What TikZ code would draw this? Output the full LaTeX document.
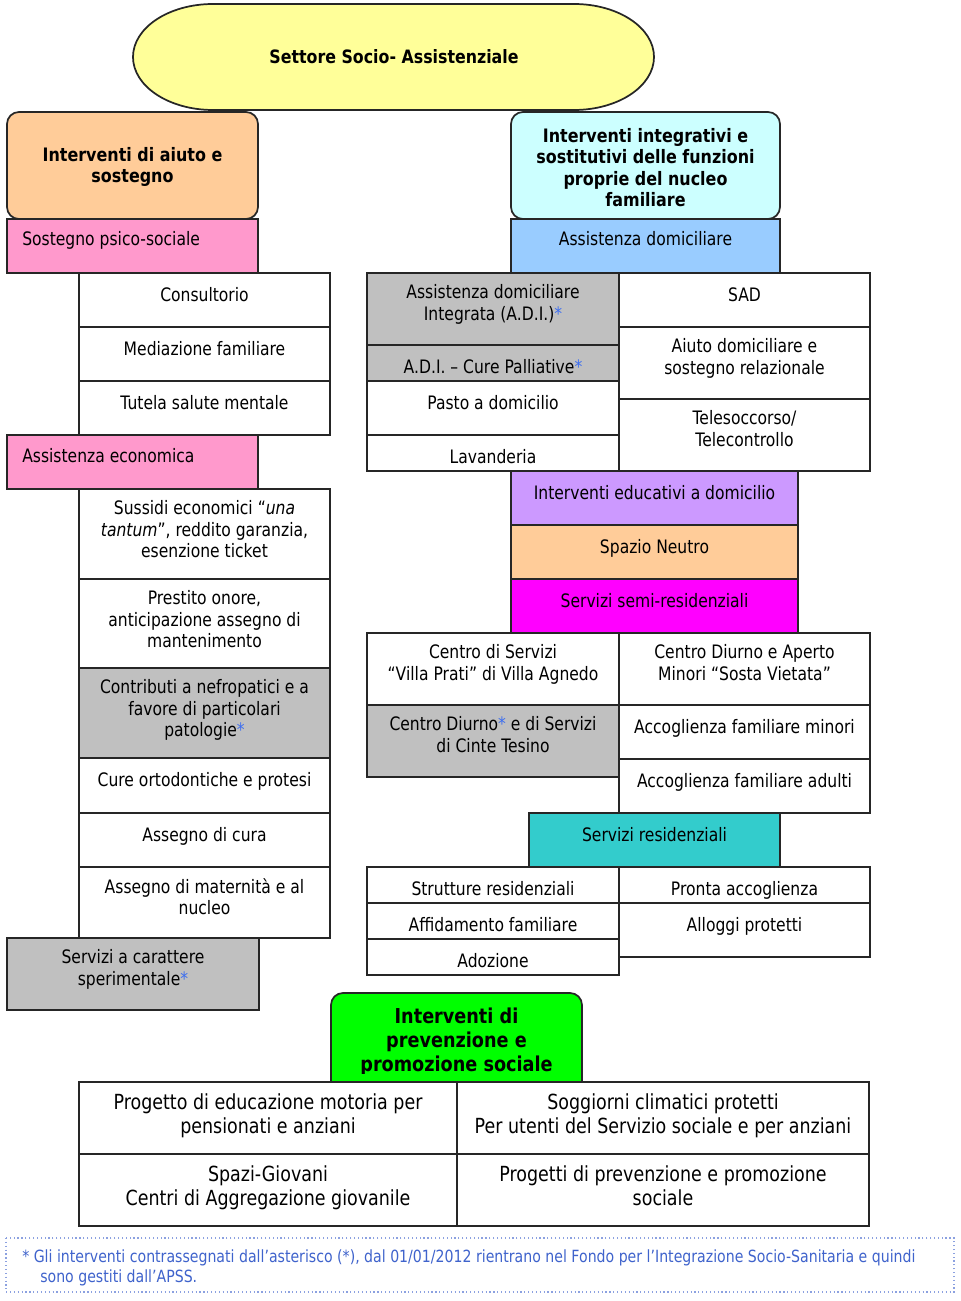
\documentclass[tikz,border=0pt]{standalone}
\usepackage{fontspec}
\setmainfont{DejaVu Sans}[FakeStretch=0.84, BoldFeatures={FakeStretch=0.86}]
\usepackage{xcolor}
\usepackage{tikz}
\usetikzlibrary{positioning}

% colori dei riquadri
\definecolor{giallo}{HTML}{FFFF99}
\definecolor{pesca}{HTML}{FFCC99}
\definecolor{rosa}{HTML}{FF99CC}
\definecolor{celeste}{HTML}{CCFFFF}
\definecolor{azzurro}{HTML}{99CCFF}
\definecolor{grigio}{HTML}{C0C0C0}
\definecolor{lilla}{HTML}{CC99FF}
\definecolor{fucsia}{HTML}{FF00FF}
\definecolor{turchese}{HTML}{33CCCC}
\definecolor{verde}{HTML}{00FF00}
\definecolor{blunota}{HTML}{3F63CC}
\definecolor{stellina}{HTML}{3D6EF0}

\newcommand{\stella}{\textcolor{stellina}{*}}
\newcommand{\fvoce}{\fontsize{13.9}{16.1}\selectfont}
\newcommand{\ftab}{\fontsize{15.6}{18}\selectfont}
\newcommand{\fprev}{\bfseries\fontsize{15.4}{18}\selectfont}
\newcommand{\fnota}{\fontsize{12.6}{15}\selectfont}

% riquadro con il testo in alto (prima riga a 28px dal bordo)
\newcommand{\cella}[7][white]{%
  \draw[bordo, fill=#1] (#3,#4) rectangle (#5,#6);
  \node[voce] (#2) at ({(#3+#5)/2},{#4+11.33}) {#7};}

\begin{document}
\begin{tikzpicture}[x=0.75pt, y=-0.75pt,
    bordo/.style={draw=black!85, line width=1.3pt},
    voce/.style={font=\fvoce, align=center, anchor=north, inner sep=0pt,
        execute at begin node={\rule{0pt}{12.5pt}}},
    intest/.style={font=\bfseries\fvoce, align=center, inner sep=0pt}]
    \fill[white] (0,0) rectangle (960,1301);
    \useasboundingbox (0,0) rectangle (960,1301);

    % Titolo
    \draw[bordo, fill=giallo] (213,4) -- (574,4)
        arc[start angle=-90, end angle=90, x radius=80, y radius=53] -- (213,110)
        arc[start angle=90, end angle=270, x radius=80, y radius=53] -- cycle;
    \node[intest, font=\bfseries\fontsize{13.8}{15}\selectfont] (settore) at (394,57) {Settore Socio- Assistenziale};

    % Intestazioni
    \draw[bordo, fill=pesca, rounded corners=9pt] (7,112) rectangle (258,219);
    \node[intest] (aiuto) at (132.5,167) {Interventi di aiuto e\\sostegno};
    \draw[bordo, fill=celeste, rounded corners=9pt] (511,112) rectangle (780,219);
    \node[intest] (integrativi) at (645.5,167.5) {Interventi integrativi e\\sostitutivi delle funzioni\\proprie del nucleo\\familiare};

    % Colonna sinistra
    \draw[bordo, fill=rosa] (7,219) rectangle (258,273);
    \node[voce, anchor=base west] (psico) at (22,246) {Sostegno psico-sociale};
    \foreach \nome/\testo/\y in {consultorio/Consultorio/273, mediazione/Mediazione familiare/327, tutela/Tutela salute mentale/381}
        {\cella{\nome}{79}{\y}{330}{\y+54}{\testo}}
    \draw[bordo, fill=rosa] (7,435) rectangle (258,489);
    \node[voce, anchor=base west] (economica) at (22,462) {Assistenza economica};
    \cella{sussidi}{79}{489}{330}{579}{Sussidi economici “\textit{una}\\\textit{tantum}”, reddito garanzia,\\esenzione ticket}
    \cella{prestito}{79}{579}{330}{668}{Prestito onore,\\anticipazione assegno di\\mantenimento}
    \cella[grigio]{nefropatici}{79}{668}{330}{758}{Contributi a nefropatici e a\\favore di particolari\\patologie\stella}
    \cella{ortodontiche}{79}{758}{330}{813}{Cure ortodontiche e protesi}
    \cella{cura}{79}{813}{330}{867}{Assegno di cura}
    \cella{maternita}{79}{867}{330}{938}{Assegno di maternità e al\\nucleo}
    \cella[grigio]{sperimentale}{7}{938}{259}{1010}{Servizi a carattere\\sperimentale\stella}

    % Assistenza domiciliare
    \draw[bordo, fill=azzurro] (511,219) rectangle (780,273);
    \node[voce, anchor=base] (domiciliare) at (645.5,246) {Assistenza domiciliare};
    \cella[grigio]{adi}{367}{273}{619}{345}{Assistenza domiciliare\\Integrata (A.D.I.)\stella}
    \cella[grigio]{palliative}{367}{345}{619}{381}{A.D.I. – Cure Palliative\stella}
    \cella{pasto}{367}{381}{619}{435}{Pasto a domicilio}
    \cella{lavanderia}{367}{435}{619}{471}{Lavanderia}
    \cella{sad}{619}{273}{870}{327}{SAD}
    \cella{relazionale}{619}{327}{870}{399}{Aiuto domiciliare e\\sostegno relazionale}
    \cella{telesoccorso}{619}{399}{870}{471}{Telesoccorso/\\Telecontrollo}

    % Interventi educativi e semi-residenziali
    \cella[lilla]{educativi}{511}{471}{798}{525}{Interventi educativi a domicilio}
    \cella[pesca]{neutro}{511}{525}{798}{579}{Spazio Neutro}
    \cella[fucsia]{semires}{511}{579}{798}{633}{Servizi semi-residenziali}
    \cella{villaprati}{367}{633}{619}{705}{Centro di Servizi\\“Villa Prati” di Villa Agnedo}
    \cella[grigio]{cinte}{367}{705}{619}{777}{Centro Diurno\stella{} e di Servizi\\di Cinte Tesino}
    \cella{sostavietata}{619}{633}{870}{705}{Centro Diurno e Aperto\\Minori “Sosta Vietata”}
    \cella{minori}{619}{705}{870}{759}{Accoglienza familiare minori}
    \cella{adulti}{619}{759}{870}{813}{Accoglienza familiare adulti}

    % Servizi residenziali
    \cella[turchese]{residenziali}{529}{813}{780}{867}{Servizi residenziali}
    \cella{strutture}{367}{867}{619}{903}{Strutture residenziali}
    \cella{affidamento}{367}{903}{619}{939}{Affidamento familiare}
    \cella{adozione}{367}{939}{619}{975}{Adozione}
    \cella{pronta}{619}{867}{870}{903}{Pronta accoglienza}
    \cella{alloggi}{619}{903}{870}{957}{Alloggi protetti}

    % Prevenzione e promozione
    \draw[bordo, fill=verde, rounded corners=9pt] (331,993) rectangle (582,1100);
    \begin{scope}
        \clip (331,993) rectangle (582,1073);
        \node[voce, font=\fprev] (prevenzione) at (456.5,1007.3) {Interventi di\\prevenzione e\\promozione sociale};
    \end{scope}
    \begin{scope}[voce/.append style={font=\ftab}]
        \cella{motoria}{79}{1082}{457}{1154}{Progetto di educazione motoria per\\pensionati e anziani}
        \cella{soggiorni}{457}{1082}{869}{1154}{Soggiorni climatici protetti\\Per utenti del Servizio sociale e per anziani}
        \cella{giovani}{79}{1154}{457}{1226}{Spazi-Giovani\\Centri di Aggregazione giovanile}
        \cella{progetti}{457}{1154}{869}{1226}{Progetti di prevenzione e promozione\\sociale}
    \end{scope}

    % Nota
    \draw[draw=blunota!60, line width=0.9pt, dotted] (6,1238) rectangle (954,1292);
    \node[voce, anchor=north west, align=left, font=\fnota, text=blunota] (nota) at (22,1249.3)
        {* Gli interventi contrassegnati dall’asterisco (*), dal 01/01/2012 rientrano nel Fondo per l’Integrazione Socio-Sanitaria e quindi\\\hspace*{13.5pt}sono gestiti dall’APSS.};
\end{tikzpicture}
\end{document}
